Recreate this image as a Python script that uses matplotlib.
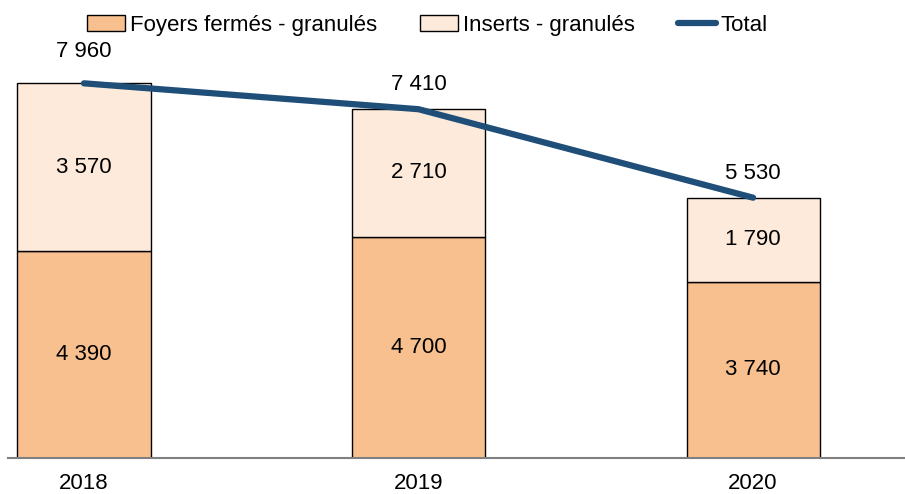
import numpy as np
import matplotlib
matplotlib.use("Agg")
import matplotlib.pyplot as plt

plt.rcParams['font.family'] = ['Liberation Sans', 'DejaVu Sans']

years = ['2018', '2019', '2020']
foyers = [4390, 4700, 3740]
inserts = [3570, 2710, 1790]
totals = [7960, 7410, 5530]

c_foyers = '#F9C08F'
c_inserts = '#FDEADA'
c_total = '#1F4E79'
fs = 16


def fmt(v):
    # french style thousands separator
    return '{:,}'.format(v).replace(',', ' ')


fig = plt.figure(figsize=(9.05, 4.94), dpi=100)
ax = fig.add_axes([8 / 905, 36 / 494, 897 / 905, 458 / 494])

x = np.arange(len(years))
w = 0.398
b1 = ax.bar(x, foyers, w, color=c_foyers, edgecolor='black', linewidth=1.0,
            label='Foyers fermés - granulés', zorder=2)
b2 = ax.bar(x, inserts, w, bottom=foyers, color=c_inserts, edgecolor='black',
            linewidth=1.0, label='Inserts - granulés', zorder=2)
ln, = ax.plot(x, totals, color=c_total, linewidth=4.5, solid_capstyle='round',
              label='Total', zorder=3)

for i in range(len(years)):
    ax.text(x[i], foyers[i] / 2, fmt(foyers[i]), ha='center', va='center', fontsize=fs)
    ax.text(x[i], foyers[i] + inserts[i] / 2, fmt(inserts[i]), ha='center',
            va='center', fontsize=fs)
    ax.annotate(fmt(totals[i]), (x[i], totals[i]), xytext=(0, 10 if i else 15),
                textcoords='offset points', ha='center', va='bottom', fontsize=fs)

ax.set_xlim(-0.227, 2.454)
ax.set_ylim(0, 9730)
ax.set_xticks(x)
ax.set_xticklabels(years, fontsize=fs)
ax.tick_params(axis='x', length=0, pad=11)
ax.set_yticks([])
for s in ['top', 'right', 'left']:
    ax.spines[s].set_visible(False)
ax.spines['bottom'].set_color('#808080')
ax.spines['bottom'].set_linewidth(1.5)

fig.legend([b1, b2, ln], ['Foyers fermés - granulés', 'Inserts - granulés', 'Total'],
           loc='upper left', bbox_to_anchor=(78 / 905, 1 - 6 / 494), ncol=3,
           frameon=False, fontsize=fs, handlelength=1.71, handletextpad=0.22,
           columnspacing=1.94, borderaxespad=0.2, borderpad=0.2)

fig.savefig('out.png', dpi=100)
